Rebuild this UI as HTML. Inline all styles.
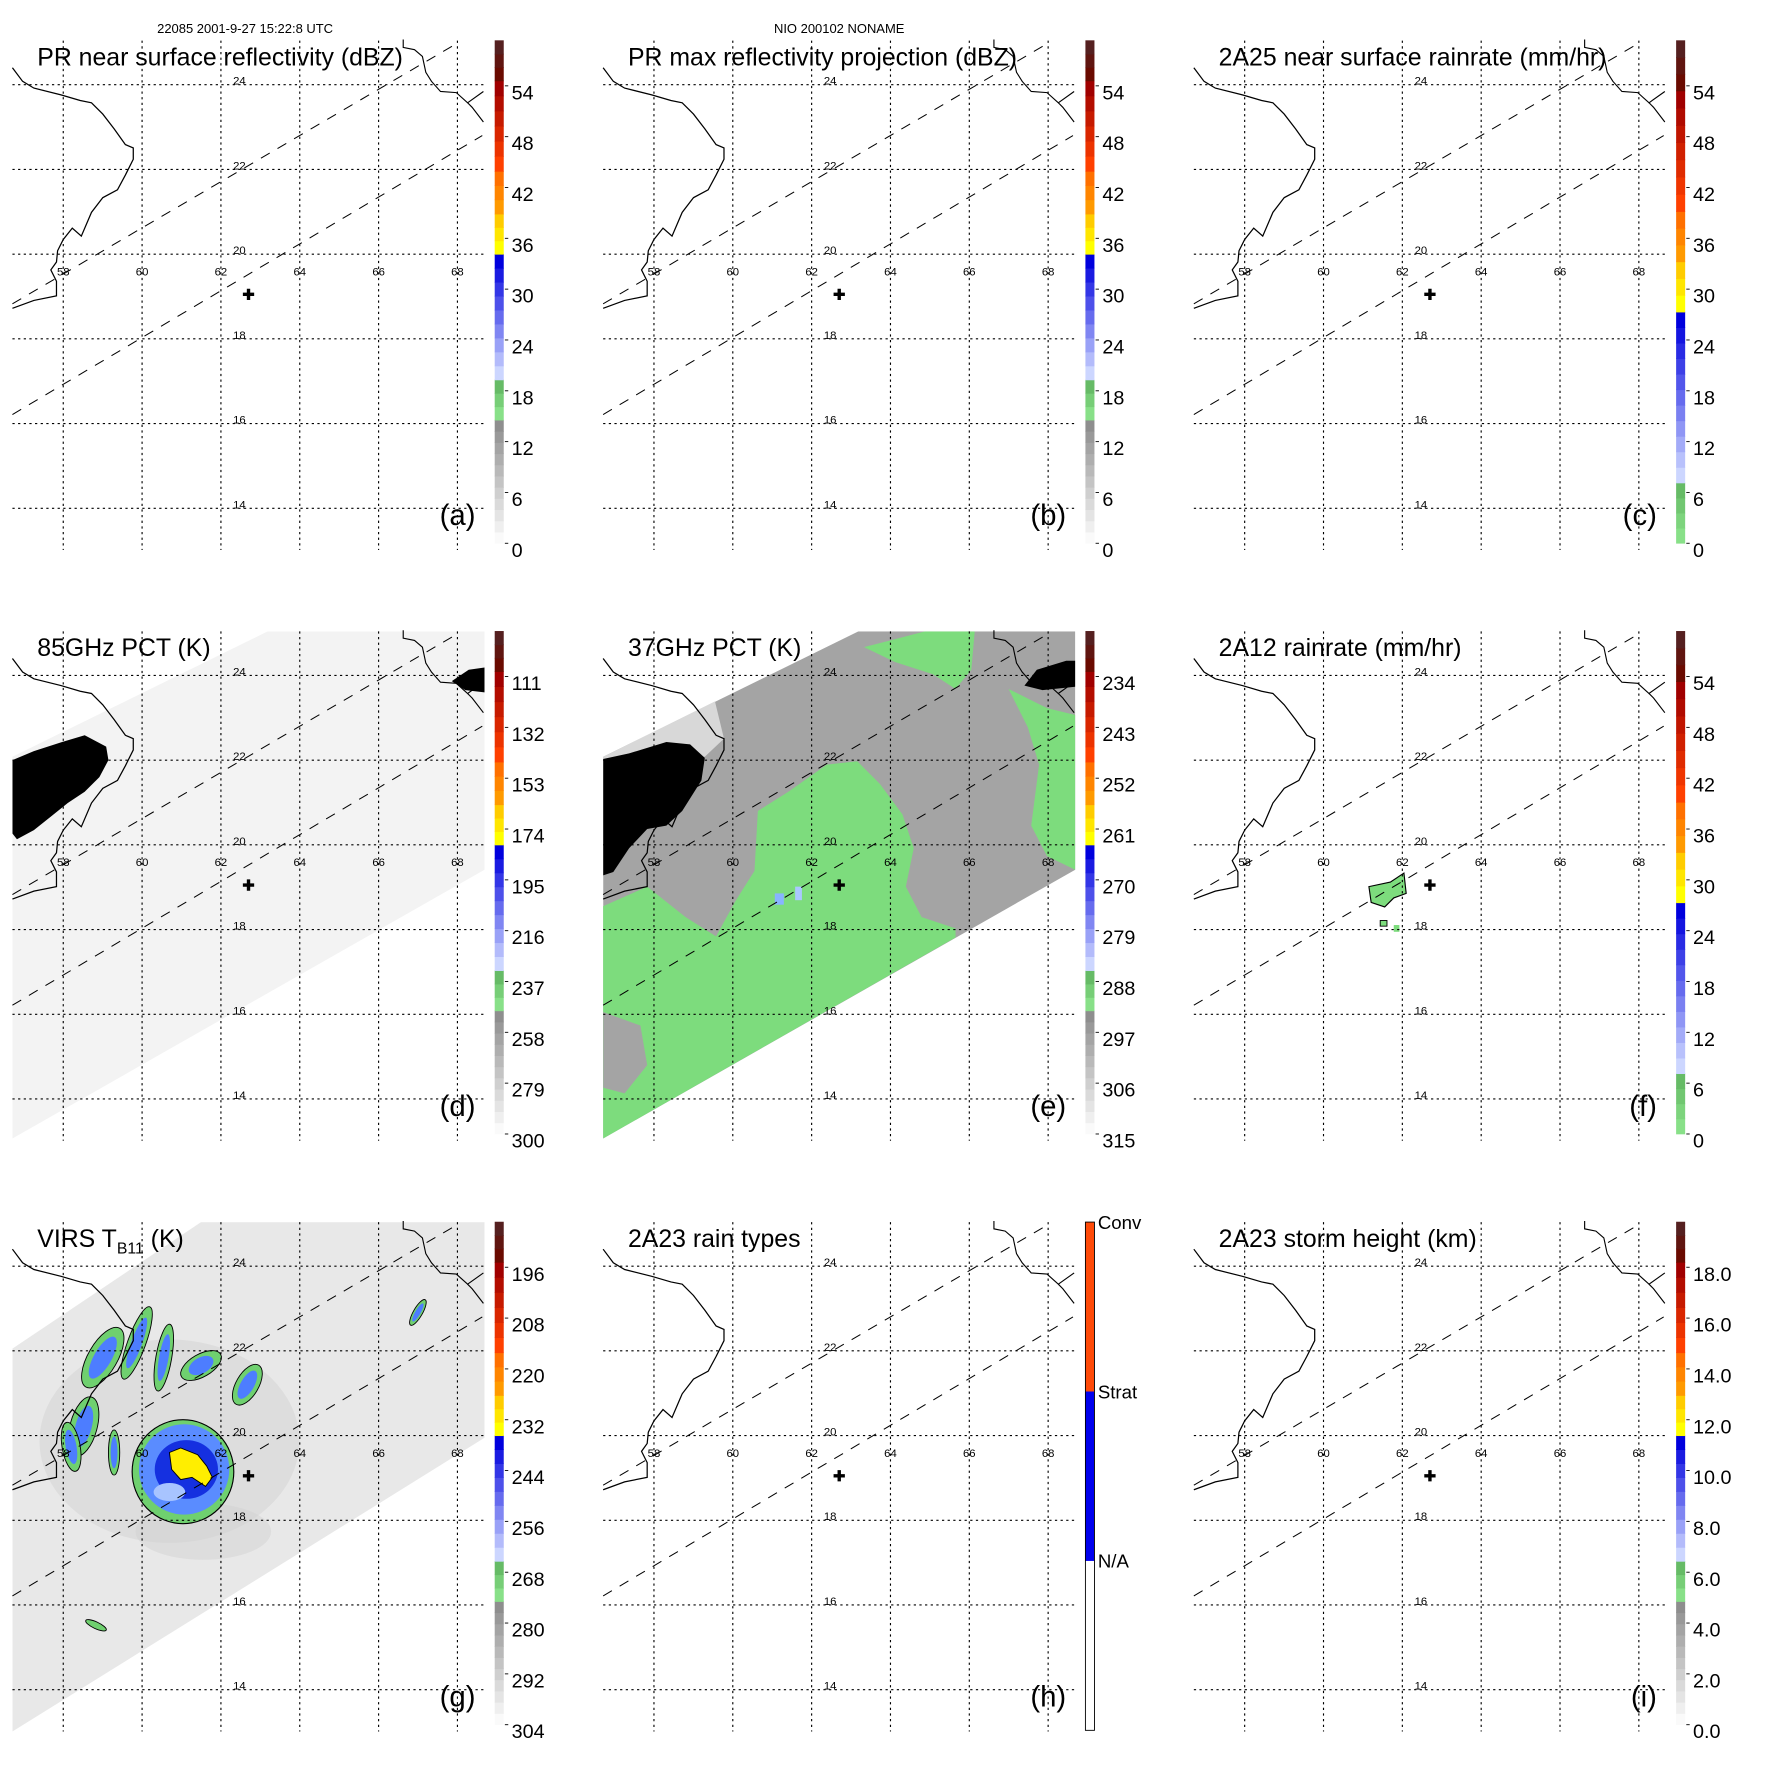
<!DOCTYPE html>
<html><head><meta charset="utf-8"><style>
html,body{margin:0;padding:0;background:#fff}
svg{display:block}
text{font-family:"Liberation Sans",Arial,sans-serif}
</style></head><body>
<svg id="fig" xmlns="http://www.w3.org/2000/svg" width="1771" height="1771" viewBox="0 0 1568 1568">
<rect width="1568" height="1568" fill="#fff"/>
<text x="217" y="29" font-size="11.5" text-anchor="middle">22085 2001-9-27 15:22:8 UTC</text>
<text x="743" y="29" font-size="11.5" text-anchor="middle">NIO 200102 NONAME</text>
</svg>
<script>
// ---- data ----
const lonTicks = [58, 60, 62, 64, 66, 68];
const latTicks = [24, 22, 20, 18, 16, 14];
const panelTitles = ["PR near surface reflectivity (dBZ)", "PR max reflectivity projection (dBZ)", "2A25 near surface rainrate (mm/hr)",
  "85GHz PCT (K)", "37GHz PCT (K)", "2A12 rainrate (mm/hr)", "VIRS T_B11 (K)", "2A23 rain types", "2A23 storm height (km)"];
const panelLetters = ["(a)", "(b)", "(c)", "(d)", "(e)", "(f)", "(g)", "(h)", "(i)"];
const cbarLabelsA = ["0", "6", "12", "18", "24", "30", "36", "42", "48", "54"];
const cbarLabelsD = ["300", "279", "258", "237", "216", "195", "174", "153", "132", "111"];
const cbarLabelsE = ["315", "306", "297", "288", "279", "270", "261", "252", "243", "234"];
const cbarLabelsG = ["304", "292", "280", "268", "256", "244", "232", "220", "208", "196"];
const cbarLabelsI = ["0.0", "2.0", "4.0", "6.0", "8.0", "10.0", "12.0", "14.0", "16.0", "18.0"];
const rainTypeLabels = ["N/A", "Strat", "Conv"];
const stormCenter = [62.7, 19.05];

const svg = document.getElementById('fig');
const NS = "http://www.w3.org/2000/svg";
function el(tag, attrs, parent) {
  const e = document.createElementNS(NS, tag);
  for (const k in attrs) e.setAttribute(k, attrs[k]);
  (parent || svg).appendChild(e);
  return e;
}
const X0 = 11, X1 = 429, Y0 = 36, Y1 = 487;
function xLon(lon) { return 56 + (lon - 58) * 34.9; }
function yLat(lat) { return 75 + (24 - lat) * 37.5; }
const CB = {x: 438, w: 8, top: 36, bot: 481};

function mix(a, b, t) {
  const pa = [1,3,5].map(i => parseInt(a.substr(i,2),16)), pb = [1,3,5].map(i => parseInt(b.substr(i,2),16));
  return "#" + pa.map((v,i) => Math.round(v + (pb[i]-v)*t).toString(16).padStart(2,"0")).join("");
}
const palA = [[0,0.245,"#fafafa","#8e8e8e",11],[0.245,0.325,"#88e088","#66bb66",3],[0.325,0.575,"#ccd6ff","#0000dd",9],
  [0.575,0.655,"#ffff00","#ffcc00",3],[0.655,0.74,"#ff9a00","#ff7000",3],[0.74,0.92,"#ff4000","#a00000",6],[0.92,1,"#6a0a00","#552020",3]];
const palC = [[0,0.12,"#88e088","#66bb66",4],[0.12,0.46,"#ccd6ff","#0000dd",11],[0.46,0.56,"#ffff00","#ffcc00",3],
  [0.56,0.66,"#ff9a00","#ff7000",3],[0.66,0.9,"#ff4000","#a00000",7],[0.9,1,"#6a0a00","#552020",3]];

function drawColorbar(g, pal, labels) {
  const H = CB.bot - CB.top;
  pal.forEach(seg => {
    const [f0,f1,c0,c1,n] = seg;
    for (let i = 0; i < n; i++) {
      const a = f0 + (f1-f0)*i/n, b = f0 + (f1-f0)*(i+1)/n;
      const r = el('rect', {x: CB.x, y: CB.bot - b*H - 0.3, width: CB.w, height: (b-a)*H + 0.6, fill: mix(c0, c1, n>1 ? i/(n-1) : 0)}, g);
      
      
    }
  });
  labels.forEach((lab, i) => {
    const y = CB.bot - i * 45;
    el('line', {x1: CB.x + CB.w + 1, x2: CB.x + CB.w + 4, y1: y, y2: y, stroke: "#000", "stroke-width": 0.8}, g);
    const t = el('text', {x: 453, y: y + 12, "font-size": 17.5}, g);
    t.textContent = lab;
    
    
  });
}

const coastL = [[11,60],[20,72],[30,78],[54,84],[71,89],[81,91],[91,101],[101,114],[111,128],[118,131],[118,141],[111,155],[104,168],[91,175],[81,188],[72,209],[64,202],[56,212],[51,222],[50,232],[45,239],[50,249],[50,262],[30,266],[11,273]];
const coastR = [[357,35],[357,42],[367,44],[374,50],[377,64],[382,72],[390,81],[404,82],[414,91],[428,81]];
const coastR2 = [[414,91],[418,95],[428,108]];
const swathTMI = [[11,147],[237,36],[429,36],[429,247],[11,485],[11,147]];
const swathVIRS = [[11,148],[178,36],[429,36],[429,227],[11,487],[11,148]];
function pts(a) { return a.map(p => p.join(",")).join(" "); }

for (let idx = 0; idx < 9; idx++) {
  const col = idx % 3, row = Math.floor(idx / 3);
  const g = el('g', {transform: `translate(${col*523},${row*523})`});
  
  
  const cid = 'clip' + idx;
  const cp = el('clipPath', {id: cid}, g);
  el('rect', {x: X0, y: Y0, width: X1 - X0, height: Y1 - Y0}, cp);
  const f = el('g', {"clip-path": `url(#${cid})`}, g);
  
  

  if (idx === 3) {
    el('polygon', {points: pts(swathTMI), fill: "#f3f3f3"}, f);
    el('polygon', {points: pts([[11,150],[30,142],[55,134],[75,128],[94,138],[96,150],[88,165],[75,178],[60,188],[45,200],[30,212],[15,220],[11,215]]), fill: "#000"}, f);
    el('polygon', {points: pts([[400,80],[415,70],[429,68],[429,90],[412,88]]), fill: "#000"}, f);
  }
  if (idx === 4) {
    el('polygon', {points: pts(swathTMI), fill: "#a4a4a4"}, f);
    el('polygon', {points: pts([[11,147],[110,98],[118,131],[101,147],[30,150],[11,160]]), fill: "#d8d8d8"}, f);
    el('polygon', {points: pts([[11,149],[34,144],[67,134],[88,136],[101,148],[98,168],[81,195],[67,208],[50,211],[34,228],[20,249],[11,252]]), fill: "#000"}, f);
    const green = "#7ddc7d";
    el('polygon', {points: pts([[5,282],[50,262],[84,289],[111,306],[128,275],[145,248],[148,195],[175,178],[209,154],[236,151],[256,171],[276,198],[286,228],[279,262],[293,289],[323,299],[323,307],[11,485]]), fill: green}, f);
    el('polygon', {points: pts([[11,373],[44,385],[50,420],[30,445],[11,440]]), fill: "#a4a4a4"}, f);
    el('polygon', {points: pts([[242,50],[296,36],[340,36],[337,70],[323,87],[303,74],[269,63]]), fill: green}, f);
    el('polygon', {points: pts([[370,87],[404,104],[429,110],[429,247],[404,235],[390,208],[397,154],[387,121]]), fill: green}, f);
    el('polygon', {points: pts([[384,84],[395,70],[421,62],[429,62],[429,85],[400,88]]), fill: "#000"}, f);
    el('rect', {x: 163, y: 268, width: 8, height: 10, fill: "#88b4ff"}, f);
    el('rect', {x: 181, y: 262, width: 6, height: 12, fill: "#aac8ff"}, f);
  }
  if (idx === 5) {
    el('polygon', {points: pts([[166,262],[185,258],[197,250],[199,268],[188,272],[180,280],[168,276]]), fill: "#7ddc7d", stroke: "#000", "stroke-width": 1}, f);
    el('rect', {x: 176, y: 292, width: 6, height: 5, fill: "#7ddc7d", stroke: "#000", "stroke-width": 0.8}, f);
    el('rect', {x: 188, y: 296, width: 5, height: 6, fill: "#7ddc7d"}, f);
  }
  if (idx === 6) {
    el('polygon', {points: pts(swathVIRS), fill: "#e8e8e8"}, f);
    el('ellipse', {cx: 150, cy: 230, rx: 115, ry: 90, fill: "#d2d2d2", opacity: 0.5}, f);
    el('ellipse', {cx: 180, cy: 310, rx: 60, ry: 25, fill: "#d2d2d2", opacity: 0.5}, f);
    const bands = [[91,156,13,30,30],[74,217,12,27,15],[121,143,8,34,20],[145,156,7,30,10],[178,163,20,10,-30],[219,180,10,20,30],[101,240,5,20,0],[370,116,4,13,30],[63,235,8,22,-10]];
    bands.forEach(b => {
      el('ellipse', {cx: b[0], cy: b[1], rx: b[2], ry: b[3], transform: `rotate(${b[4]} ${b[0]} ${b[1]})`, fill: "#6fd06f", stroke: "#000", "stroke-width": 0.8}, f);
      el('ellipse', {cx: b[0], cy: b[1], rx: b[2]*0.6, ry: b[3]*0.7, transform: `rotate(${b[4]} ${b[0]} ${b[1]})`, fill: "#4d7dff"}, f);
    });
    el('ellipse', {cx: 162, cy: 257, rx: 45, ry: 46, fill: "#6fd06f", stroke: "#000", "stroke-width": 1}, f);
    el('ellipse', {cx: 163, cy: 255, rx: 40, ry: 40, fill: "#5a8cff"}, f);
    el('ellipse', {cx: 165, cy: 255, rx: 28, ry: 26, fill: "#1530e0"}, f);
    el('ellipse', {cx: 150, cy: 275, rx: 14, ry: 8, fill: "#a8c4ff"}, f);
    el('polygon', {points: pts([[150,240],[160,236],[175,242],[183,252],[188,262],[182,270],[170,262],[160,264],[152,255]]), fill: "#ffee00", stroke: "#000", "stroke-width": 0.8}, f);
    el('ellipse', {cx: 85, cy: 393, rx: 10, ry: 3, transform: "rotate(25 85 393)", fill: "#6fd06f", stroke: "#000", "stroke-width": 0.8}, f);
  }
  lonTicks.forEach(lon => {
    const l = el('line', {x1: xLon(lon), x2: xLon(lon), y1: Y0, y2: Y1, stroke: "#000", "stroke-width": 1, "stroke-dasharray": "2,3"}, g);
    
    
    const t = el('text', {x: xLon(lon), y: yLat(19.55) + 2, "font-size": 10, "text-anchor": "middle"}, g);
    t.textContent = lon;
    
    
  });
  latTicks.forEach(lat => {
    const l = el('line', {x1: X0, x2: X1, y1: yLat(lat), y2: yLat(lat), stroke: "#000", "stroke-width": 1, "stroke-dasharray": "2,3"}, g);
    
    
    const t = el('text', {x: 212, y: yLat(lat), "font-size": 10, "text-anchor": "middle"}, g);
    t.textContent = lat;
    
    
  });
  el('line', {x1: 11, y1: 269, x2: 407, y2: 37, stroke: "#000", "stroke-width": 0.9, "stroke-dasharray": "9,8"}, g);
  el('line', {x1: 11, y1: 367, x2: 427, y2: 120, stroke: "#000", "stroke-width": 0.9, "stroke-dasharray": "9,8"}, g);
  const c1 = el('polyline', {points: pts(coastL), fill: "none", stroke: "#000", "stroke-width": 1.1}, g);
  
  
  el('polyline', {points: pts(coastR), fill: "none", stroke: "#000", "stroke-width": 1}, g);
  el('polyline', {points: pts(coastR2), fill: "none", stroke: "#000", "stroke-width": 1}, g);
  const cx = xLon(stormCenter[0]), cy = yLat(stormCenter[1]);
  const cr = el('path', {d: `M${cx-5},${cy}H${cx+5}M${cx},${cy-5}V${cy+5}`, stroke: "#000", "stroke-width": 3}, g);
  
  
  const tt = el('text', {x: 33, y: 58, "font-size": 22}, g);
  
  
  if (idx === 6) {
    tt.innerHTML = 'VIRS T<tspan font-size="14" dy="6">B11</tspan><tspan dy="-6"> (K)</tspan>';
  } else tt.textContent = panelTitles[idx];
  const lt = el('text', {x: 421, y: 465, "font-size": 26, "text-anchor": "end"}, g);
  lt.textContent = panelLetters[idx];
  
  
  const cbg = el('g', {}, g);
  
  
  if (idx === 7) {
    const H = 486 - 36;
    [[0,"#ffffff"],[1,"#0000ee"],[2,"#ff4a08"]].forEach(([i,c]) => {
      el('rect', {x: CB.x, y: 486 - (i+1)*H/3, width: CB.w, height: H/3, fill: c}, cbg);
    });
    el('rect', {x: CB.x, y: 36, width: CB.w, height: H, fill: "none", stroke: "#000", "stroke-width": 0.8}, cbg);
    rainTypeLabels.forEach((lab, i) => {
      const t = el('text', {x: 449, y: 486 - i*H/3 - H/3 + 6, "font-size": 16.5}, cbg);
      t.textContent = lab;
      
      
    });
  } else {
    const pal = (idx === 2 || idx === 5) ? palC : palA;
    const labs = [cbarLabelsA, cbarLabelsA, cbarLabelsA, cbarLabelsD, cbarLabelsE, cbarLabelsA, cbarLabelsG, null, cbarLabelsI][idx];
    drawColorbar(cbg, pal, labs);
  }
}
</script>
</body></html>
